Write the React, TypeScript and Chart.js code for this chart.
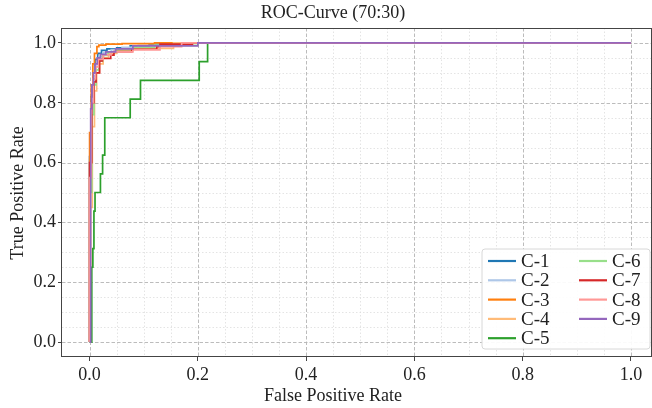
import React, { useEffect, useRef } from "react";
import { Chart, registerables } from "chart.js";

Chart.register(...registerables);

const FONT = "'Liberation Serif', 'Times New Roman', serif";

const seriesNames = ["C-1", "C-2", "C-3", "C-4", "C-5", "C-6", "C-7", "C-8", "C-9"];
const seriesColors = [
  "#1f77b4", "#aec7e8", "#ff7f0e", "#ffbb78", "#2ca02c",
  "#98df8a", "#d62728", "#ff9896", "#9467bd",
];

// corner points of each ROC step curve (false positive rate, true positive rate)
const fpr1 = [0, 0, 0.003, 0.006, 0.01, 0.015, 0.022, 0.032, 0.05, 0.075, 0.11, 0.16, 1];
const tpr1 = [0, 0.62, 0.82, 0.9, 0.945, 0.965, 0.975, 0.98, 0.984, 0.99, 0.995, 1, 1];

const fpr2 = [0, 0, 0.004, 0.008, 0.012, 0.018, 0.026, 0.04, 0.06, 0.09, 0.13, 1];
const tpr2 = [0, 0.58, 0.8, 0.89, 0.93, 0.955, 0.968, 0.978, 0.985, 0.992, 1, 1];

const fpr3 = [0, 0, 0.003, 0.006, 0.009, 0.0135, 0.017, 0.03, 0.06, 0.12, 1];
const tpr3 = [0, 0.7, 0.86, 0.93, 0.965, 0.988, 0.993, 0.996, 0.998, 1, 1];

const fpr4 = [0, 0.001, 0.002, 0.005, 0.009, 0.013, 0.018, 0.025, 0.035, 0.05, 0.08, 0.155, 1];
const tpr4 = [0, 0.04, 0.45, 0.72, 0.84, 0.9, 0.93, 0.95, 0.965, 0.975, 0.982, 1, 1];

const fpr5 = [0, 0.004, 0.006, 0.008, 0.01, 0.02, 0.024, 0.028, 0.075, 0.094, 0.2025, 0.218, 1];
const tpr5 = [0, 0.25, 0.3125, 0.4375, 0.5, 0.5625, 0.625, 0.75, 0.8125, 0.875, 0.9375, 1, 1];

const fpr6 = [0, 0.001, 0.004, 0.008, 0.012, 0.017, 0.024, 0.034, 0.05, 0.08, 0.12, 0.2, 1];
const tpr6 = [0, 0.5, 0.76, 0.86, 0.91, 0.94, 0.958, 0.97, 0.978, 0.985, 0.992, 1, 1];

const fpr7 = [0, 0, 0.004, 0.008, 0.012, 0.0185, 0.0235, 0.039, 0.045, 0.078, 0.124, 0.13, 0.19, 1];
const tpr7 = [0, 0.6, 0.8, 0.87, 0.9, 0.94, 0.948, 0.959, 0.971, 0.979, 0.988, 0.996, 1, 1];

const fpr8 = [0, 0, 0.003, 0.007, 0.011, 0.016, 0.025, 0.04, 0.08, 0.13, 0.17, 1];
const tpr8 = [0, 0.55, 0.8, 0.88, 0.92, 0.945, 0.96, 0.97, 0.977, 0.988, 1, 1];

const fpr9 = [0, 0.002, 0.004, 0.007, 0.01, 0.014, 0.02, 0.03, 0.048, 0.08, 0.2, 1];
const tpr9 = [0, 0.78, 0.86, 0.9, 0.93, 0.95, 0.962, 0.97, 0.98, 0.99, 1, 1];

const fprs = [fpr1, fpr2, fpr3, fpr4, fpr5, fpr6, fpr7, fpr8, fpr9];
const tprs = [tpr1, tpr2, tpr3, tpr4, tpr5, tpr6, tpr7, tpr8, tpr9];

const majorTicks = [0, 0.2, 0.4, 0.6, 0.8, 1.0];
const minorTicks = [0.05, 0.1, 0.15, 0.25, 0.3, 0.35, 0.45, 0.5, 0.55, 0.65, 0.7, 0.75, 0.85, 0.9, 0.95];

const chartTitle = "ROC-Curve (70:30)";
const xTitle = "False Positive Rate";
const yTitle = "True Positive Rate";

const decorPlugin = {
  id: "decor",
  beforeDatasetsDraw(chart: any) {
    const { ctx, chartArea: a, scales } = chart;
    const xs = scales.x;
    const ys = scales.y;
    ctx.save();
    ctx.beginPath();
    ctx.rect(a.left, a.top, a.right - a.left, a.bottom - a.top);
    ctx.clip();
    // minor grid
    ctx.strokeStyle = "#dddddd";
    ctx.lineWidth = 0.8;
    ctx.setLineDash([1.5, 2]);
    for (const v of minorTicks) {
      const px = Math.round(xs.getPixelForValue(v)) + 0.5;
      ctx.beginPath();
      ctx.moveTo(px, a.top);
      ctx.lineTo(px, a.bottom);
      ctx.stroke();
      const py = Math.round(ys.getPixelForValue(v)) + 0.5;
      ctx.beginPath();
      ctx.moveTo(a.left, py);
      ctx.lineTo(a.right, py);
      ctx.stroke();
    }
    // major grid
    ctx.strokeStyle = "#b4b4b4";
    ctx.lineWidth = 0.9;
    ctx.setLineDash([3.5, 2]);
    for (const v of majorTicks) {
      const px = Math.round(xs.getPixelForValue(v)) + 0.5;
      ctx.beginPath();
      ctx.moveTo(px, a.top);
      ctx.lineTo(px, a.bottom);
      ctx.stroke();
      const py = Math.round(ys.getPixelForValue(v)) + 0.5;
      ctx.beginPath();
      ctx.moveTo(a.left, py);
      ctx.lineTo(a.right, py);
      ctx.stroke();
    }
    ctx.restore();
  },
  afterDatasetsDraw(chart: any) {
    const { ctx, chartArea: a } = chart;
    ctx.save();
    // frame
    ctx.strokeStyle = "#444444";
    ctx.lineWidth = 1;
    ctx.setLineDash([]);
    ctx.strokeRect(Math.round(a.left) - 0.5, Math.round(a.top) + 0.5, Math.round(a.right - a.left), Math.round(a.bottom - a.top) - 1);

    // legend
    const x1 = a.right - 2;
    const y1 = a.bottom - 8;
    const w = 168;
    const h = 100;
    const x0 = x1 - w;
    const y0 = y1 - h;
    ctx.beginPath();
    const r = 3;
    ctx.moveTo(x0 + r, y0);
    ctx.lineTo(x1 - r, y0);
    ctx.quadraticCurveTo(x1, y0, x1, y0 + r);
    ctx.lineTo(x1, y1 - r);
    ctx.quadraticCurveTo(x1, y1, x1 - r, y1);
    ctx.lineTo(x0 + r, y1);
    ctx.quadraticCurveTo(x0, y1, x0, y1 - r);
    ctx.lineTo(x0, y0 + r);
    ctx.quadraticCurveTo(x0, y0, x0 + r, y0);
    ctx.closePath();
    ctx.fillStyle = "rgba(255,255,255,0.92)";
    ctx.fill();
    ctx.strokeStyle = "#d8d8d8";
    ctx.lineWidth = 1;
    ctx.stroke();

    ctx.font = `19px ${FONT}`;
    ctx.textBaseline = "middle";
    ctx.textAlign = "left";
    chart.data.datasets.forEach((ds: any, i: number) => {
      const col = i < 5 ? 0 : 1;
      const row = i < 5 ? i : i - 5;
      const yy = y0 + 12 + row * 19.3;
      const lx = x0 + (col === 0 ? 6 : 97);
      ctx.strokeStyle = ds.borderColor;
      ctx.lineWidth = 2.2;
      ctx.beginPath();
      ctx.moveTo(lx, yy);
      ctx.lineTo(lx + 28, yy);
      ctx.stroke();
      ctx.fillStyle = "#222222";
      ctx.fillText(ds.label, lx + 33, yy + 1);
    });

    // titles
    ctx.fillStyle = "#222222";
    ctx.font = `18px ${FONT}`;
    ctx.textAlign = "center";
    ctx.textBaseline = "middle";
    ctx.fillText(chartTitle, 333, 13);
    ctx.fillText(xTitle, 333, 396);
    ctx.translate(18, 193);
    ctx.rotate(-Math.PI / 2);
    ctx.fillText(yTitle, 0, 0);
    ctx.restore();
  },
};

export default function App() {
  const ref = useRef<HTMLCanvasElement | null>(null);

  useEffect(() => {
    if (!ref.current) return;
    const datasets = seriesNames.map((name, i) => ({
      label: name,
      data: fprs[i].map((f, j) => ({ x: f, y: tprs[i][j] })),
      borderColor: seriesColors[i],
      backgroundColor: seriesColors[i],
      borderWidth: 1.7,
      pointRadius: 0,
      stepped: true as any,
      fill: false,
      order: seriesNames.length - 1 - i,
    }));
    const tickFont = { family: FONT, size: 18 };
    const chart = new Chart(ref.current, {
      type: "line",
      data: { datasets },
      options: {
        animation: false,
        responsive: false,
        devicePixelRatio: 1,
        parsing: false,
        layout: { padding: { top: 28, left: 0, right: 0, bottom: 0 } },
        plugins: {
          legend: { display: false },
          title: { display: false },
          tooltip: { enabled: false },
        },
        scales: {
          x: {
            type: "linear",
            min: -0.051,
            max: 1.039,
            afterBuildTicks: (s: any) => {
              s.ticks = majorTicks.map((v) => ({ value: v }));
            },
            afterFit: (s: any) => {
              s.height = 51;
            },
            ticks: {
              font: tickFont,
              color: "#222222",
              padding: 3,
              maxRotation: 0,
              autoSkip: false,
              callback: (v: any) => Number(v).toFixed(1),
            },
            grid: {
              display: true,
              drawOnChartArea: false,
              drawTicks: true,
              tickLength: 4,
              tickColor: "#444444",
            },
            border: { display: false },
          },
          y: {
            type: "linear",
            min: -0.05,
            max: 1.05,
            afterBuildTicks: (s: any) => {
              s.ticks = majorTicks.map((v) => ({ value: v }));
            },
            afterFit: (s: any) => {
              s.width = 62;
            },
            ticks: {
              font: tickFont,
              color: "#222222",
              padding: 2,
              autoSkip: false,
              callback: (v: any) => Number(v).toFixed(1),
            },
            grid: {
              display: true,
              drawOnChartArea: false,
              drawTicks: true,
              tickLength: 4,
              tickColor: "#444444",
            },
            border: { display: false },
          },
        },
      } as any,
      plugins: [decorPlugin],
    });
    return () => chart.destroy();
  }, []);

  return (
    <div style={{ position: "absolute", left: 0, top: 0, width: 652, height: 408, background: "#ffffff" }}>
      <canvas ref={ref} width={652} height={408} style={{ display: "block" }} />
    </div>
  );
}
